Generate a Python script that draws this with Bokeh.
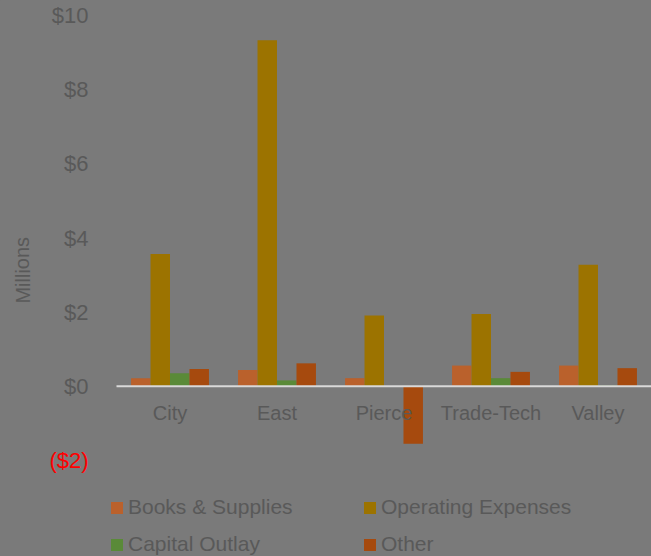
from bokeh.plotting import figure
from bokeh.models import ColumnDataSource, Legend, LegendItem
from bokeh.core.properties import value
from bokeh.embed import file_html
from bokeh.resources import INLINE

categories = ["City", "East", "Pierce", "Trade-Tech", "Valley"]
books = [0.22, 0.44, 0.22, 0.56, 0.56]
operating = [3.57, 9.33, 1.91, 1.95, 3.28]
capital = [0.35, 0.16, 0.0, 0.22, 0.02]
other = [0.47, 0.62, -1.55, 0.39, 0.49]
series_names = ["Books & Supplies", "Operating Expenses", "Capital Outlay", "Other"]
colors = ["#BA612C", "#9C7300", "#5A8A38", "#A64A0E"]
y_ticks = [-2, 0, 2, 4, 6, 8, 10]
y_min, y_max = -2, 10

BG = "#7A7A7A"
TXT = "#595959"
FONT = "Liberation Sans"

# layout geometry (pixels) of the plot area inside the 651x556 canvas
W, H = 651, 556
PL, PR, PT, PB = 116, 651, 15, 460
n = len(categories)
xs_per_px = n / (PR - PL)
ys_per_px = (y_max - y_min) / (PB - PT)
x_lo = -0.5 - PL * xs_per_px
x_hi = n - 0.5 + (W - PR) * xs_per_px
y_hi = y_max + PT * ys_per_px
y_lo = y_min - (H - PB) * ys_per_px


def px2x(px):
    return x_lo + px * xs_per_px


xs = list(range(n))

p = figure(width=W, height=H, x_range=(x_lo, x_hi), y_range=(y_lo, y_hi),
           output_backend="svg", toolbar_location=None,
           x_axis_location=None, y_axis_location=None,
           background_fill_color=BG, border_fill_color=BG, outline_line_color=None,
           min_border=0)
p.styles = {"background-color": BG}
p.grid.visible = False

w = 0.182
series = [books, operating, capital, other]
offsets = [-1.5 * w, -0.5 * w, 0.5 * w, 1.5 * w]
renderers = []
for vals, off, c in zip(series, offsets, colors):
    src = ColumnDataSource(dict(x=[xi + off for xi in xs], top=vals))
    r = p.vbar(x="x", top="top", bottom=0, width=w, source=src,
               fill_color=c, line_color=None)
    renderers.append(r)

# zero line across the plot area
p.segment(x0=[-0.5], y0=[0], x1=[n - 0.5], y1=[0], line_color="#D9D9D9", line_width=2)

# category labels
p.text(x=xs, y=[-0.72] * n, text=categories, text_align="center",
       text_baseline="middle", text_color=TXT, text_font=value(FONT),
       text_font_size="20px")

# value axis labels
tick_text = [("($%d)" % -t) if t < 0 else ("$%d" % t) for t in y_ticks]
tick_color = ["#FF0000" if t < 0 else TXT for t in y_ticks]
p.text(x=[px2x(88)] * len(y_ticks), y=y_ticks, text=tick_text, text_color=tick_color,
       text_align="right", text_baseline="middle", text_font=value(FONT),
       text_font_size="22px")

# axis title
p.text(x=[px2x(22)], y=[3.13], text=["Millions"], angle=1.5708,
       text_align="center", text_baseline="middle", text_color=TXT,
       text_font=value(FONT), text_font_size="20px")

legend = Legend(items=[LegendItem(label=nm, renderers=[r]) for nm, r in zip(series_names, renderers)],
                ncols=2, location=(109, 0), orientation="horizontal",
                background_fill_alpha=0, border_line_color=None,
                label_text_color=TXT, label_text_font=FONT, label_text_font_size="21px",
                glyph_width=15, glyph_height=15, label_standoff=4, spacing=13,
                label_width=221, padding=0, margin=0, label_height=24)
p.add_layout(legend, "center")

open("out.html", "w").write(file_html(p, INLINE))
